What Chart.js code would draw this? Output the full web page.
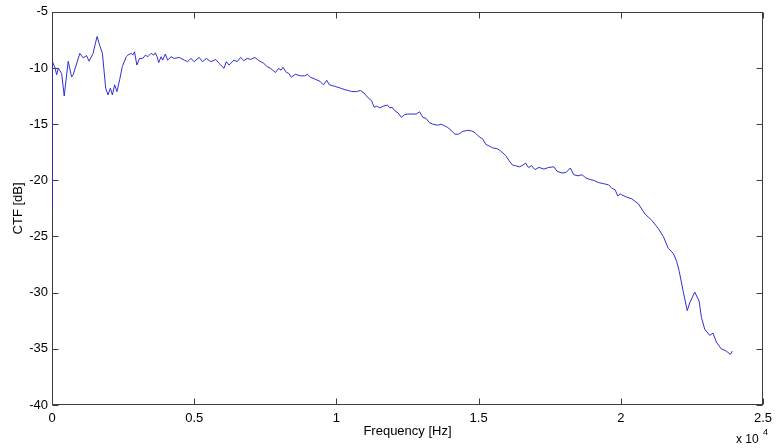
<!DOCTYPE html>
<html>
<head>
<meta charset="utf-8">
<script src="https://cdn.jsdelivr.net/npm/chart.js@4.4.1/dist/chart.umd.min.js"></script>
<style>
  html, body { margin: 0; padding: 0; background: #fff; }
  #wrap { width: 778px; height: 448px; }
</style>
</head>
<body>
<div id="wrap"><canvas id="ctfChart" width="778" height="448"></canvas></div>
<script>
// frequency (Hz) and CTF (dB)
const freqHz = [
    0, 10, 105, 164, 220, 339, 430, 570, 689, 745,
    979, 1095, 1214, 1304, 1444, 1584, 1678, 1773, 1888, 1969,
    2053, 2123, 2203, 2284, 2378, 2472, 2612, 2668, 2787, 2843,
    2902, 2983, 3077, 3192, 3287, 3367, 3486, 3577, 3636, 3696,
    3752, 3836, 3892, 3986, 4066, 4185, 4301, 4476, 4650, 4766,
    4885, 5000, 5175, 5290, 5430, 5584, 5759, 5874, 6049, 6130,
    6224, 6399, 6514, 6633, 6748, 6864, 6983, 7133, 7273, 7448,
    7563, 7682, 7857, 7972, 8053, 8123, 8241, 8322, 8416, 8556,
    8731, 8881, 8986, 9080, 9255, 9430, 9545, 9661, 9755, 9955,
    10150, 10304, 10420, 10535, 10710, 10850, 10969, 11119, 11234, 11329,
    11409, 11528, 11643, 11794, 11878, 11958, 12052, 12168, 12283, 12402,
    12517, 12692, 12808, 12927, 13042, 13157, 13276, 13391, 13566, 13682,
    13801, 13916, 14032, 14171, 14290, 14441, 14616, 14755, 14871, 15025,
    15140, 15255, 15374, 15490, 15664, 15780, 15955, 16074, 16189, 16304,
    16444, 16563, 16654, 16748, 16864, 16982, 17122, 17297, 17472, 17647,
    17762, 17937, 18077, 18227, 18346, 18497, 18637, 18776, 18927, 19046,
    19221, 19396, 19570, 19685, 19801, 19895, 19976, 20038, 20213, 20388,
    20622, 20852, 21087, 21321, 21496, 21671, 21846, 21962, 22056, 22196,
    22336, 22427, 22602, 22756, 22836, 22951, 23126, 23245, 23360, 23535,
    23710, 23860, 23920
];
const ctfDb = [
    -22.5, -9.4, -10.0, -10.6, -10.0, -10.5, -12.5, -9.4, -10.8, -10.6,
    -8.7, -9.1, -8.9, -9.4, -8.7, -7.2, -8.0, -8.7, -11.8, -12.4,
    -11.8, -12.4, -11.5, -12.1, -11.06, -9.88, -8.99, -8.85, -8.7, -8.85,
    -8.56, -9.74, -9.15, -9.15, -8.85, -9.0, -8.7, -8.85, -8.65, -9.0,
    -9.52, -9.0, -9.3, -8.76, -9.3, -9.0, -9.15, -9.06, -9.3, -9.44,
    -9.15, -9.44, -9.06, -9.44, -9.15, -9.44, -9.24, -9.59, -10.03, -9.44,
    -9.74, -9.3, -9.44, -9.06, -9.35, -9.15, -9.24, -9.06, -9.35, -9.59,
    -9.88, -10.03, -10.4, -10.03, -10.2, -9.94, -10.4, -10.47, -10.82, -10.56,
    -10.7, -10.7, -10.56, -10.82, -11.0, -11.2, -11.5, -11.1, -11.5, -11.64,
    -11.8, -11.94, -12.0, -12.1, -12.1, -12.0, -12.23, -12.67, -12.9, -13.5,
    -13.4, -13.55, -13.4, -13.3, -13.55, -13.5, -13.8, -14.0, -14.4, -14.15,
    -14.1, -14.1, -14.1, -13.9, -14.4, -14.5, -14.88, -15.0, -15.1, -15.0,
    -15.15, -15.3, -15.55, -15.9, -15.9, -15.65, -15.55, -15.6, -15.75, -16.14,
    -16.3, -16.8, -16.95, -17.1, -17.2, -17.4, -17.8, -18.25, -18.64, -18.7,
    -18.8, -18.64, -18.46, -18.85, -18.7, -19.05, -18.85, -19.0, -18.85, -18.8,
    -19.2, -19.35, -19.3, -18.9, -19.5, -19.6, -19.5, -19.8, -19.94, -20.0,
    -20.2, -20.3, -20.4, -20.7, -20.85, -21.4, -21.2, -21.3, -21.5, -21.65,
    -22.1, -23.0, -23.55, -24.3, -25.0, -26.05, -26.5, -27.2, -28.1, -29.9,
    -31.6, -30.9, -29.95, -30.76, -32.2, -33.25, -33.8, -33.6, -34.4, -35.0,
    -35.2, -35.5, -35.2
];
const xTicks = [0, 5000, 10000, 15000, 20000, 25000];
const yTicks = [-40, -35, -30, -25, -20, -15, -10, -5];

const fontFamily = "'Liberation Sans', Arial, sans-serif";
const axisColor = '#3c3c3c';

// MATLAB style box with inward ticks on all four sides, plus the x10^4 label
const matlabAxes = {
    id: 'matlabAxes',
    beforeDatasetsDraw(chart) {
        const { ctx, chartArea: a, scales } = chart;
        const len = 6;
        const l = Math.round(a.left) + 0.5, r = Math.round(a.right) - 0.5;
        const t = Math.round(a.top) + 0.5, b = Math.round(a.bottom) - 0.5;
        ctx.save();
        ctx.strokeStyle = axisColor;
        ctx.lineWidth = 1;
        ctx.strokeRect(l, t, r - l, b - t);
        ctx.beginPath();
        xTicks.forEach(v => {
            const x = Math.round(scales.x.getPixelForValue(v)) + 0.5;
            ctx.moveTo(x, b); ctx.lineTo(x, b - len);
            ctx.moveTo(x, t); ctx.lineTo(x, t + len);
        });
        yTicks.forEach(v => {
            const y = Math.round(scales.y.getPixelForValue(v)) + 0.5;
            ctx.moveTo(l, y); ctx.lineTo(l + len, y);
            ctx.moveTo(r, y); ctx.lineTo(r - len, y);
        });
        ctx.stroke();

        ctx.fillStyle = '#000';
        ctx.textBaseline = 'alphabetic';
        ctx.textAlign = 'left';
        ctx.font = '12px ' + fontFamily;
        ctx.fillText('x 10', 736, 443);
        ctx.font = '9px ' + fontFamily;
        ctx.fillText('4', 763, 435);
        ctx.restore();
    }
};

const ctx = document.getElementById('ctfChart').getContext('2d');
new Chart(ctx, {
    type: 'line',
    data: {
        datasets: [{
            label: 'CTF',
            data: freqHz.map((f, i) => ({ x: f, y: ctfDb[i] })),
            borderColor: 'rgb(48, 48, 210)',
            borderWidth: 1,
            pointRadius: 0,
            tension: 0,
            fill: false
        }]
    },
    options: {
        responsive: false,
        animation: false,
        events: [],
        layout: {
            autoPadding: false,
            padding: { left: 7, right: 11, top: 8, bottom: 5 }
        },
        plugins: {
            legend: { display: false },
            tooltip: { enabled: false }
        },
        scales: {
            x: {
                type: 'linear',
                min: 0,
                max: 25000,
                afterFit(scale) { scale.height = 38; },
                afterBuildTicks(scale) { scale.ticks = xTicks.map(v => ({ value: v })); },
                grid: { display: false, drawTicks: false },
                border: { display: false },
                ticks: {
                    padding: 6,
                    color: '#000',
                    maxRotation: 0,
                    font: { family: fontFamily, size: 13 },
                    callback: v => String(v / 10000)
                },
                title: {
                    display: true,
                    text: 'Frequency [Hz]',
                    color: '#000',
                    font: { family: fontFamily, size: 13 }
                }
            },
            y: {
                type: 'linear',
                min: -40,
                max: -5,
                afterFit(scale) { scale.width = 45; },
                afterBuildTicks(scale) { scale.ticks = yTicks.map(v => ({ value: v })); },
                grid: { display: false, drawTicks: false },
                border: { display: false },
                ticks: {
                    padding: 4,
                    color: '#000',
                    font: { family: fontFamily, size: 13 }
                },
                title: {
                    display: true,
                    text: 'CTF [dB]',
                    color: '#000',
                    font: { family: fontFamily, size: 13 }
                }
            }
        }
    },
    plugins: [matlabAxes]
});
</script>
</body>
</html>
